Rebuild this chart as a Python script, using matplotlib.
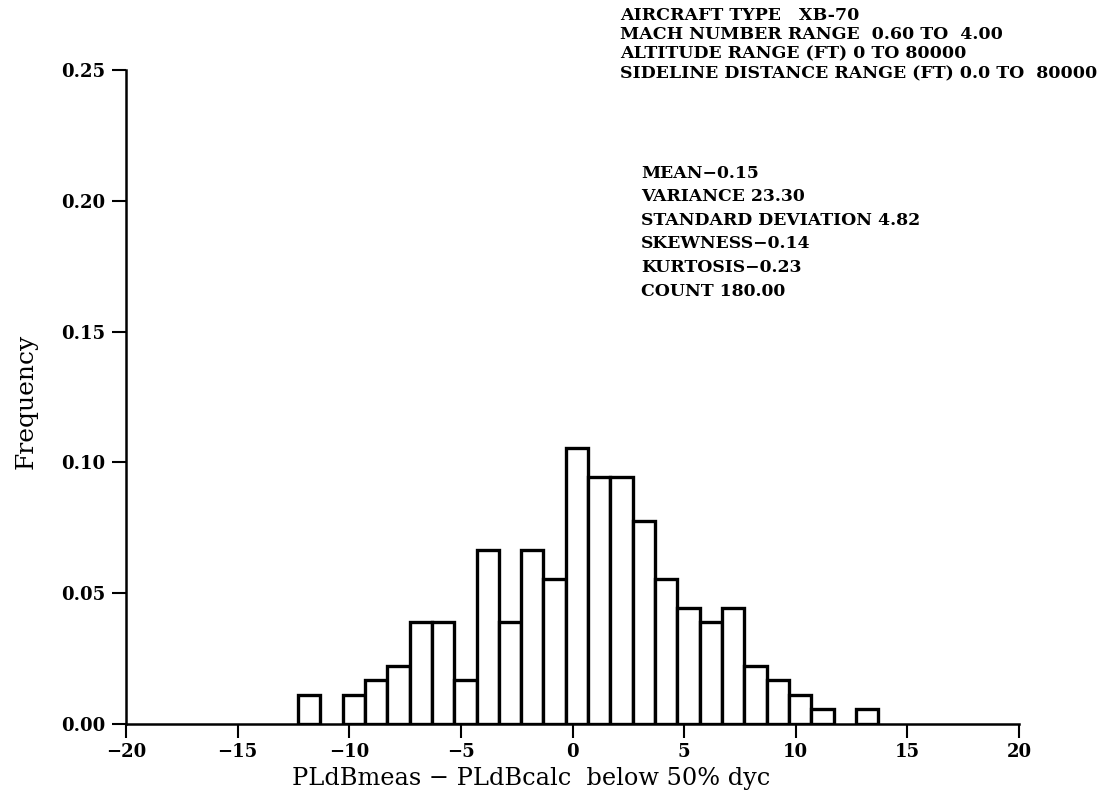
import numpy as np
import matplotlib
matplotlib.use("Agg")
import matplotlib.pyplot as plt

plt.rcParams['font.family'] = ['DejaVu Serif']

# histogram bins (bin centre, PLdB difference) and counts per bin
bin_centers = [-12, -10, -9, -8, -7, -6, -5, -4, -3, -2, -1, 0,
               1, 2, 3, 4, 5, 6, 7, 8, 9, 10, 11, 13]
bin_counts = [2, 2, 3, 4, 7, 7, 3, 12, 7, 12, 10, 19,
              17, 17, 14, 10, 8, 7, 8, 4, 3, 2, 1, 1]
total_count = 180

xticks = [-20, -15, -10, -5, 0, 5, 10, 15, 20]
yticks = [0.00, 0.05, 0.10, 0.15, 0.20, 0.25]

header_lines = [
    "AIRCRAFT TYPE   XB-70",
    "MACH NUMBER RANGE  0.60 TO  4.00",
    "ALTITUDE RANGE (FT) 0 TO 80000",
    "SIDELINE DISTANCE RANGE (FT) 0.0 TO  80000",
]
stats_lines = [
    "MEAN\u22120.15",
    "VARIANCE 23.30",
    "STANDARD DEVIATION 4.82",
    "SKEWNESS\u22120.14",
    "KURTOSIS\u22120.23",
    "COUNT 180.00",
]

W, H = 1115, 806
fig = plt.figure(figsize=(W / 100, H / 100), dpi=100)
ax = fig.add_axes([126 / W, 1 - 724 / H, (1019 - 126) / W, (724 - 70) / H])

freq = np.array(bin_counts) / total_count
ax.bar(np.array(bin_centers) + 0.2, freq, width=1.0, facecolor="white",
       edgecolor="black", linewidth=2.4, zorder=2)

ax.set_xlim(-20, 20)
ax.set_ylim(0, 0.25)
ax.set_xticks(xticks)
ax.set_xticklabels([f"{t:d}".replace("-", "\u2212") for t in xticks])
ax.set_yticks(yticks)
ax.set_yticklabels([f"{t:.2f}" for t in yticks])
for lab in ax.get_xticklabels() + ax.get_yticklabels():
    lab.set_fontweight("bold")
    lab.set_fontsize(13)

ax.spines["top"].set_visible(False)
ax.spines["right"].set_visible(False)
ax.spines["left"].set_linewidth(1.8)
ax.spines["bottom"].set_linewidth(1.8)
ax.tick_params(direction="out", length=10, width=1.5)
ax.tick_params(axis="x", pad=4)
ax.tick_params(axis="y", pad=5)
ax.patch.set_alpha(0)

fig.text(531 / W, 1 - 778 / H, "PLdBmeas \u2212 PLdBcalc  below 50% dyc",
         fontsize=17.3, ha="center", va="center")
fig.text(26 / W, 1 - 401 / H, "Frequency", rotation=90, fontsize=18,
         ha="center", va="center")

for i, line in enumerate(header_lines):
    fig.text(620 / W, 1 - (15 + 19.5 * i) / H, line, fontsize=12.5,
             fontweight="bold", ha="left", va="center")
for i, line in enumerate(stats_lines):
    fig.text(641 / W, 1 - (173 + 23.6 * i) / H, line, fontsize=12.4,
             fontweight="bold", ha="left", va="center")

fig.savefig("out.png", dpi=100)
